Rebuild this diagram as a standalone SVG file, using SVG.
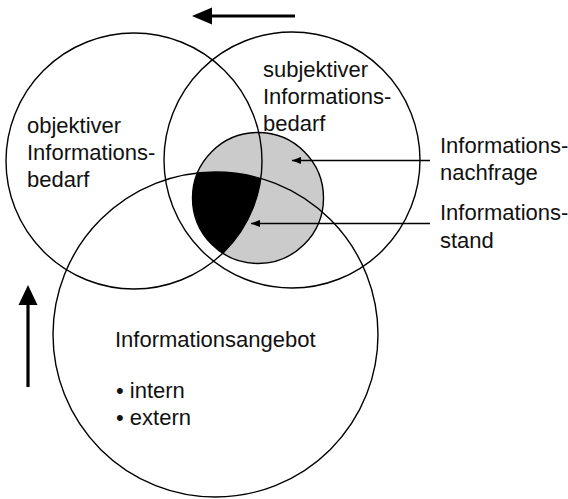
<svg xmlns="http://www.w3.org/2000/svg" width="568" height="499" viewBox="0 0 568 499">
  <style>
    .ring { fill: none; stroke: #000; stroke-width: 1.4; }
    .lbl { font-family: "Liberation Sans", Arial, sans-serif; font-size: 22px; fill: #111; }
    .ptr { stroke: #000; stroke-width: 1.3; fill: none; }
    .big { stroke: #000; stroke-width: 3.2; fill: none; }
  </style>
  <defs>
    <marker id="tip" markerUnits="userSpaceOnUse" markerWidth="10" markerHeight="8" refX="9" refY="4" orient="auto">
      <path d="M0,0.4 L9,4 L0,7.6 Z" fill="#000"/>
    </marker>
    <clipPath id="clipObj"><circle cx="134" cy="161" r="128"/></clipPath>
    <clipPath id="clipAng"><circle cx="215.5" cy="334.5" r="162.5"/></clipPath>
  </defs>

  <!-- Informationsnachfrage: shaded disc -->
  <g id="nachfrage">
    <circle cx="258" cy="198" r="65.5" fill="#cbcbcb"/>
  </g>

  <!-- Informationsstand: demand that is both objectively needed and offered -->
  <g id="stand">
    <g clip-path="url(#clipObj)">
      <circle cx="258" cy="198" r="65.5" fill="#000" clip-path="url(#clipAng)"/>
    </g>
  </g>

  <!-- objektiver Informationsbedarf -->
  <g id="objektiv">
    <circle class="ring" cx="134" cy="161" r="128"/>
    <text class="lbl" x="27" y="133">objektiver</text>
    <text class="lbl" x="27" y="160">Informations-</text>
    <text class="lbl" x="27" y="187">bedarf</text>
  </g>

  <!-- subjektiver Informationsbedarf -->
  <g id="subjektiv">
    <circle class="ring" cx="292" cy="160" r="128"/>
    <text class="lbl" x="263" y="77">subjektiver</text>
    <text class="lbl" x="263" y="104">Informations-</text>
    <text class="lbl" x="263" y="131">bedarf</text>
  </g>

  <!-- Informationsangebot -->
  <g id="angebot">
    <circle class="ring" cx="215.5" cy="334.5" r="162.5"/>
    <text class="lbl" x="115" y="347">Informationsangebot</text>
    <text class="lbl" x="116" y="398">• intern</text>
    <text class="lbl" x="116" y="425">• extern</text>
  </g>

  <g id="nachfrage-outline">
    <circle class="ring" cx="258" cy="198" r="65.5"/>
  </g>

  <!-- side labels -->
  <g id="label-nachfrage">
    <text class="lbl" x="440" y="153">Informations-</text>
    <text class="lbl" x="440" y="180">nachfrage</text>
  </g>
  <g id="label-stand">
    <text class="lbl" x="440" y="220">Informations-</text>
    <text class="lbl" x="440" y="248">stand</text>
  </g>

  <!-- connectors -->
  <g id="connectors">
    <line class="ptr" x1="430" y1="160.5" x2="292" y2="160.5" marker-end="url(#tip)"/>
    <line class="ptr" x1="430" y1="223.5" x2="251" y2="223.5" marker-end="url(#tip)"/>
    <!-- direction arrows -->
    <line class="big" x1="295" y1="16" x2="211" y2="16"/>
    <polygon points="192,16 212,7.5 212,24.5" fill="#000"/>
    <line class="big" x1="28" y1="387" x2="28" y2="304"/>
    <polygon points="28,285 18.5,305 37.5,305" fill="#000"/>
  </g>
</svg>
